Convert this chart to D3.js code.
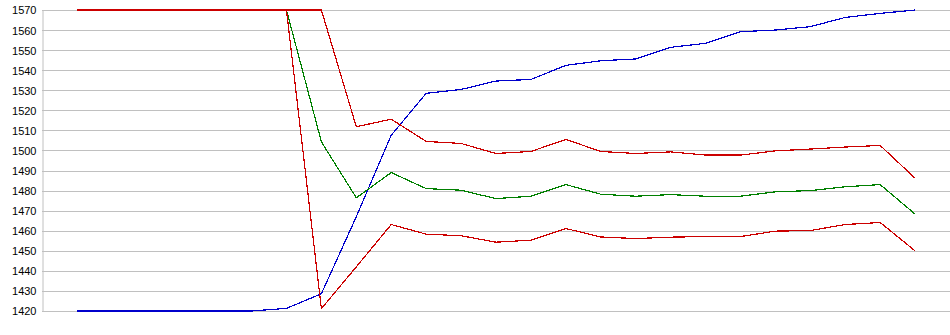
<!DOCTYPE html>
<html>
<head>
<meta charset="utf-8">
<script src="https://cdn.jsdelivr.net/npm/d3@7"></script>
<style>
  html, body { margin: 0; padding: 0; background: #fff; }
  svg { display: block; }
  .tick text { font-family: "Liberation Sans", Arial, sans-serif; font-size: 11px; fill: #000; }
</style>
</head>
<body>
<svg id="chart" width="950" height="335"></svg>
<script>
// y-axis ticks
const yTicks = [1420, 1430, 1440, 1450, 1460, 1470, 1480, 1490, 1500, 1510, 1520, 1530, 1540, 1550, 1560, 1570];

// sample positions 1..25
const steps = d3.range(1, 26);

// series values
const blueSeries = [1420, 1420, 1420, 1420, 1420, 1420, 1421.3, 1428.6, 1467, 1507.6, 1528.5, 1530.4, 1534.6, 1535.4, 1542.4, 1544.7, 1545.6, 1551.4, 1553.4, 1559.2, 1560, 1561.7, 1566.3, 1568.3, 1570];
const greenSeries = [1570, 1570, 1570, 1570, 1570, 1570, 1570, 1504.3, 1476.4, 1489, 1481, 1480.2, 1476, 1477.2, 1483, 1478.2, 1477.2, 1478, 1477.2, 1477.2, 1479.4, 1480, 1481.9, 1483, 1468.3];
const redLowerSeries = [1570, 1570, 1570, 1570, 1570, 1570, 1570, 1421.2, 1442, 1463.1, 1458.3, 1457.5, 1454.3, 1455.3, 1461.1, 1456.9, 1456.1, 1456.8, 1457.1, 1457.1, 1459.8, 1460.1, 1463.1, 1464.1, 1450];
const redUpperSeries = [1570, 1570, 1570, 1570, 1570, 1570, 1570, 1570, 1511.8, 1515.6, 1504.5, 1503.5, 1498.5, 1499.5, 1505.5, 1499.5, 1498.5, 1499.3, 1497.7, 1497.7, 1499.8, 1500.7, 1501.7, 1502.5, 1486.2];

const svg = d3.select("#chart");
const plotLeft = 42, plotRight = 950, plotTop = 10, plotBottom = 311;

const x = d3.scaleLinear().domain([0, 26]).range([plotLeft, plotRight]);
const y = d3.scaleLinear().domain([1420, 1570]).range([plotBottom, plotTop]);

// horizontal grid
svg.append("g")
  .selectAll("line")
  .data(yTicks)
  .join("line")
  .attr("x1", plotLeft).attr("x2", plotRight)
  .attr("y1", d => Math.round(y(d)) + 0.5).attr("y2", d => Math.round(y(d)) + 0.5)
  .attr("stroke", "#c0c0c0").attr("stroke-width", 1);

// left axis
const yAxis = d3.axisLeft(y).tickValues(yTicks).tickSize(0).tickPadding(6).tickFormat(d3.format("d"));
const ag = svg.append("g").attr("transform", `translate(${plotLeft + 0.5},0)`).call(yAxis);
ag.select(".domain").attr("stroke", "#c0c0c0");
ag.selectAll(".tick text").attr("dy", "0.36em");

const line = d3.line().x((d, i) => x(steps[i])).y(d => y(d));

const series = [
  { values: blueSeries, color: "#0000cc" },
  { values: greenSeries, color: "#008000" },
  { values: redLowerSeries, color: "#cc0000" },
  { values: redUpperSeries, color: "#cc0000" }
];

// jagged, non-antialiased series lines
svg.append("g")
  .selectAll("path")
  .data(series)
  .join("path")
  .attr("d", d => line(d.values))
  .attr("fill", "none")
  .attr("stroke", d => d.color)
  .attr("stroke-width", 1.2)
  .attr("shape-rendering", "crispEdges");
</script>
</body>
</html>
